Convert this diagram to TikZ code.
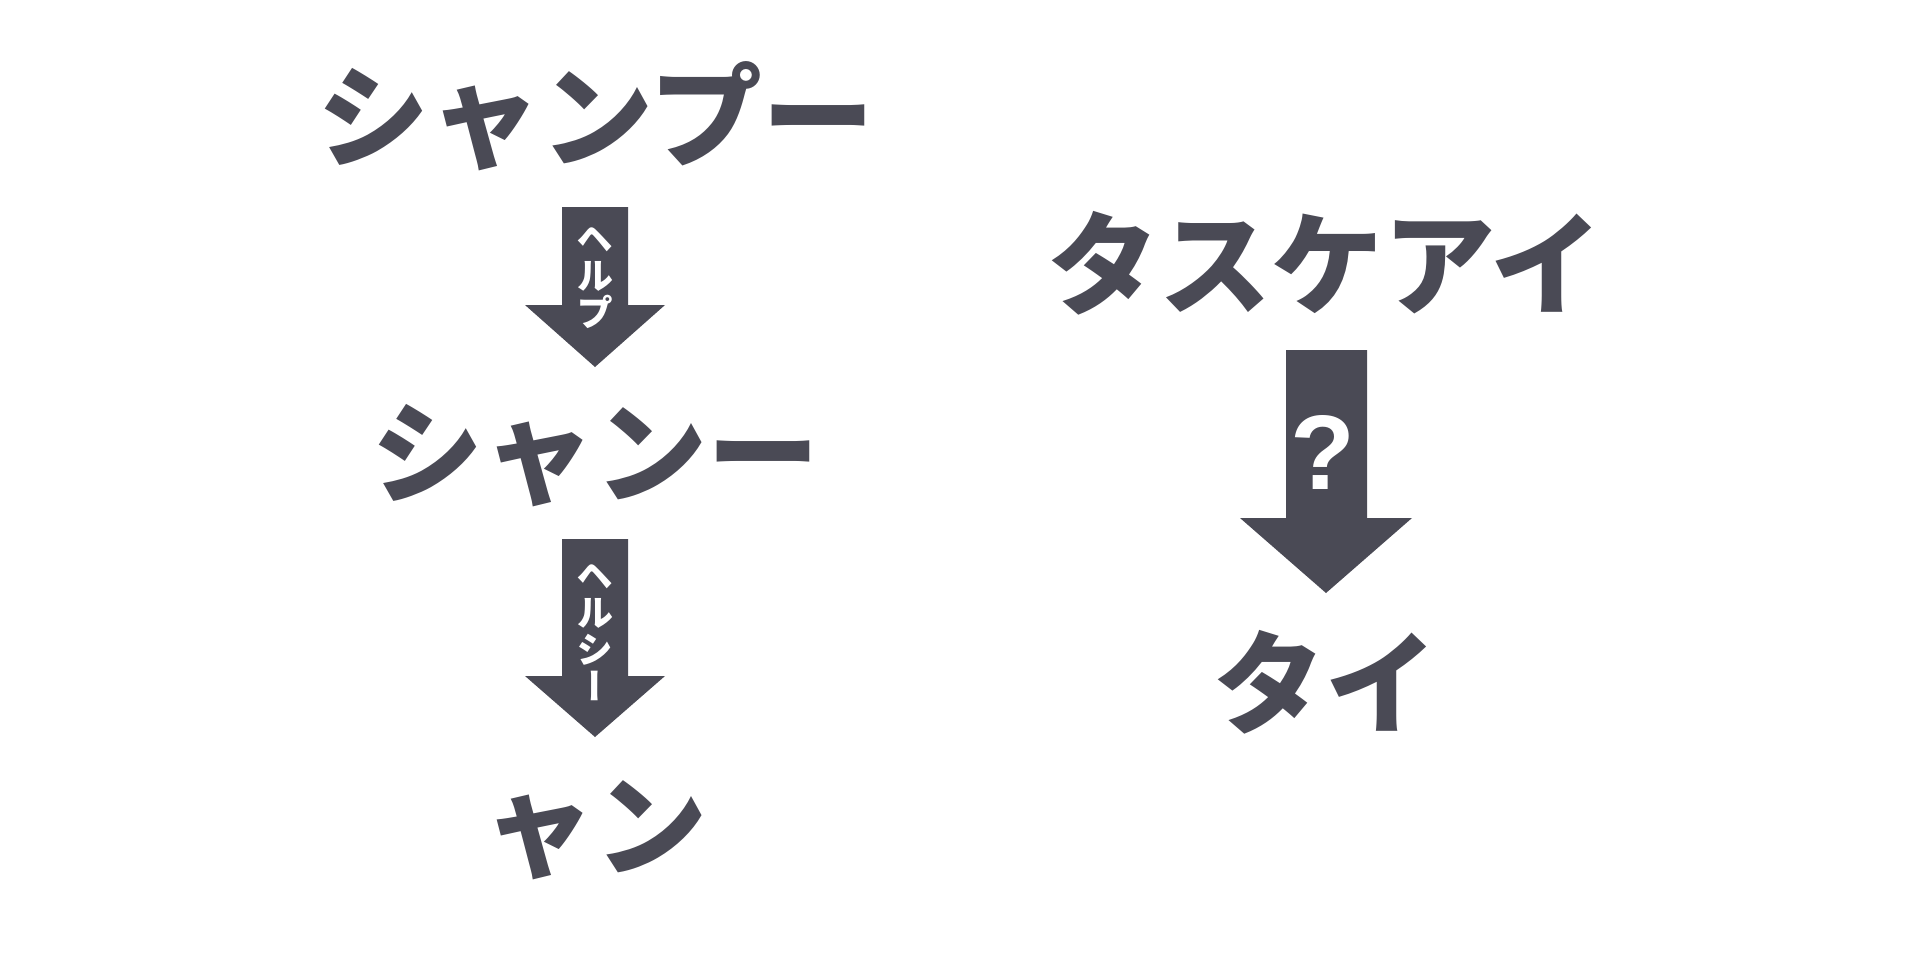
\documentclass[tikz,border=0pt]{standalone}
\usepackage{fontspec}
\setmainfont{Noto Sans CJK JP}
\newfontfamily\vertfont[RawFeature=+vert]{Noto Sans CJK JP}
\newfontfamily\qfont{Liberation Sans}
\definecolor{ink}{HTML}{4A4A55}
\begin{document}
\begin{tikzpicture}[x=1pt, y=-1pt,
        word/.style = {text=ink, inner sep=0pt,
                       font=\fontsize{112}{112}\selectfont\bfseries},
         blk/.style = {fill=ink},
         tag/.style = {text=white, inner sep=0pt, align=center,
                       font=\vertfont\fontsize{37}{37}\selectfont\bfseries}
                    ]
    \useasboundingbox (0,0) rectangle (1920,956);
    % words, left column
    \node[word] (shampoo) at (596,116) {シャンプー};
    \node[word] (shan)    at (595,456) {シャンー};
    \node[word] (yan)     at (595,830) {ャン};
    % words, right column
    \node[word] (tasuke)  at (1325,263) {タスケアイ};
    \node[word] (tai)     at (1325,682) {タイ};

    % arrows
    \fill[blk] (562,207) -- (628,207) -- (628,305) -- (665,305)
               -- (595,367) -- (525,305) -- (562,305) -- cycle;
    \fill[blk] (562,539) -- (628,539) -- (628,676) -- (665,676)
               -- (595,737) -- (525,676) -- (562,676) -- cycle;
    \fill[blk] (1286,350) -- (1367,350) -- (1367,518) -- (1412,518)
               -- (1326,593) -- (1240,518) -- (1286,518) -- cycle;

    % labels inside the arrows
    \node[tag] (help)    at (595,278) {ヘ\\ル\\プ};
    \node[tag] (healthy) at (595,632) {ヘ\\ル\\シ\\ー};
    \node[text=white, inner sep=0pt,
          font=\qfont\fontsize{106}{106}\selectfont\bfseries]
          (what) at (1323,452) {?};
\end{tikzpicture}
\end{document}
